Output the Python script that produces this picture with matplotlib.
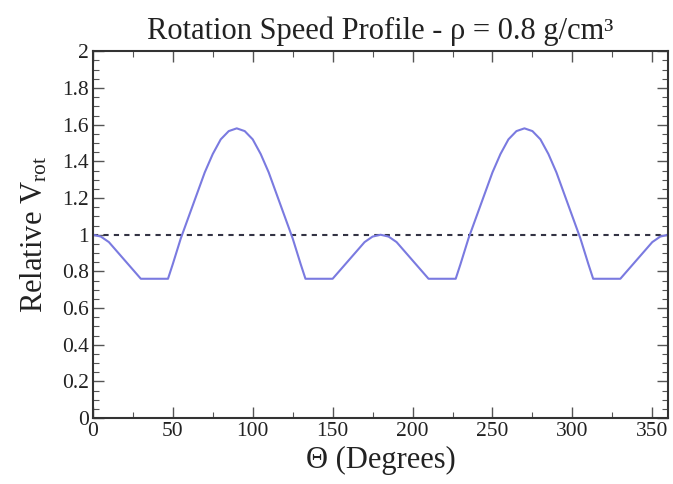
import matplotlib
matplotlib.use("Agg")
import matplotlib.pyplot as plt
from matplotlib.ticker import MultipleLocator

# rotation speed profile (degrees, relative speed)
theta = [0, 5, 10, 15, 20, 25, 30, 35, 40, 47, 50, 55, 60, 65, 70, 75, 80, 85, 90,
         95, 100, 105, 110, 115, 120, 125, 130, 133, 140, 150, 155, 160, 165, 170, 175, 180,
         185, 190, 195, 200, 205, 210, 215, 220, 227, 230, 235, 240, 245, 250, 255, 260, 265, 270,
         275, 280, 285, 290, 295, 300, 305, 310, 313, 320, 330, 335, 340, 345, 350, 355, 360]
v_rot = [1.00, 0.99, 0.96, 0.91, 0.86, 0.81, 0.76, 0.76, 0.76, 0.76, 0.84, 0.98, 1.10, 1.22, 1.34, 1.44, 1.52, 1.565, 1.58,
         1.565, 1.52, 1.44, 1.34, 1.22, 1.10, 0.98, 0.84, 0.76, 0.76, 0.76, 0.81, 0.86, 0.91, 0.96, 0.99, 1.00,
         0.99, 0.96, 0.91, 0.86, 0.81, 0.76, 0.76, 0.76, 0.76, 0.84, 0.98, 1.10, 1.22, 1.34, 1.44, 1.52, 1.565, 1.58,
         1.565, 1.52, 1.44, 1.34, 1.22, 1.10, 0.98, 0.84, 0.76, 0.76, 0.76, 0.81, 0.86, 0.91, 0.96, 0.99, 1.00]
ref_x = [0, 360]
ref_y = [1, 1]
yticks = [0, 0.2, 0.4, 0.6, 0.8, 1, 1.2, 1.4, 1.6, 1.8, 2]
ylabels = ['0', '0.2', '0.4', '0.6', '0.8', '1', '1.2', '1.4', '1.6', '1.8', '2']

plt.rcParams['font.family'] = ['Liberation Serif', 'DejaVu Serif']
plt.rcParams['mathtext.fontset'] = 'custom'
plt.rcParams['mathtext.rm'] = 'Liberation Serif'
plt.rcParams['mathtext.it'] = 'Liberation Serif:italic'

fig = plt.figure(figsize=(6.73, 4.84), dpi=100)
ax = fig.add_axes([0.138, 0.136, 0.855, 0.758])

ax.plot(ref_x, ref_y, color='#333344', linestyle=(0, (2.5, 2.5)), linewidth=1.5)
ax.plot(theta, v_rot, color='#7a7ae0', linewidth=1.5)

ax.set_xlim(0, 360)
ax.set_ylim(0, 2)
ax.xaxis.set_major_locator(MultipleLocator(50))
ax.xaxis.set_minor_locator(MultipleLocator(25))
ax.yaxis.set_minor_locator(MultipleLocator(0.05))
ax.set_yticks(yticks)
ax.set_yticklabels(ylabels)

ax.tick_params(which='both', direction='in', top=True, right=True, labelsize=15.5,
               color='#555555', labelcolor='#222222')
ax.tick_params(which='major', length=8, width=1)
ax.tick_params(which='minor', length=4, width=0.8)
ax.tick_params(axis='x', pad=3)
ax.tick_params(axis='y', pad=3)
for s in ax.spines.values():
    s.set_linewidth(1.5)
    s.set_color('#333333')

ax.set_title('Rotation Speed Profile - ρ = 0.8 g/cm³', fontsize=22, pad=9, color='#222222')
ax.set_xlabel('Θ (Degrees)', fontsize=22, labelpad=3, color='#222222')
ax.set_ylabel(r'Relative V$_{\mathrm{rot}}$', fontsize=22, labelpad=9, color='#222222')

fig.savefig('out.png', dpi=100)
